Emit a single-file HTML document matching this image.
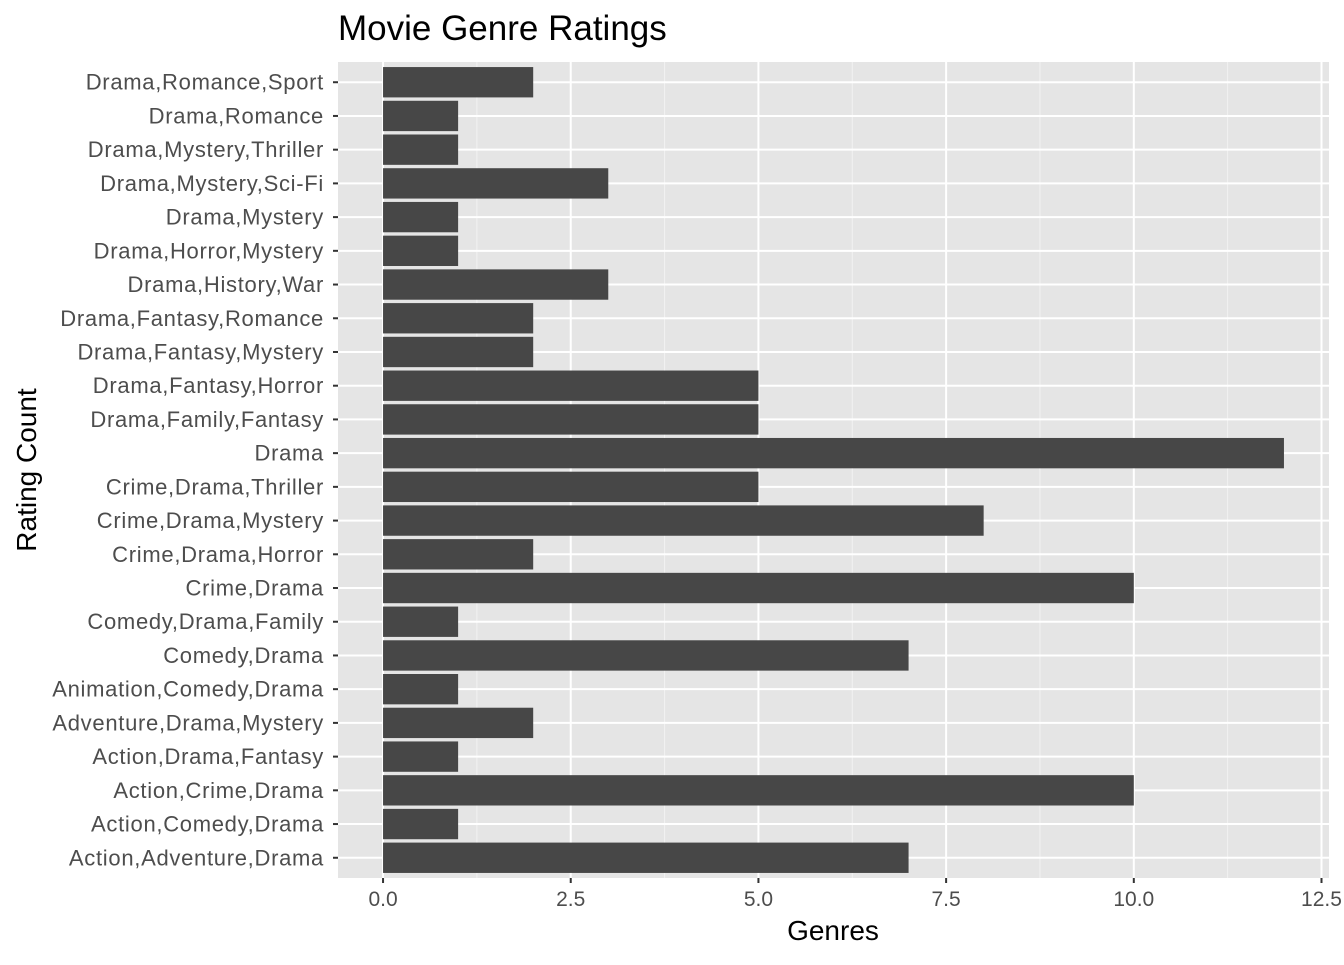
<!DOCTYPE html>
<html><head><meta charset="utf-8"><style>
body{margin:0;background:#fff;width:1344px;height:960px;overflow:hidden}
text{font-family:"Liberation Sans",Arial,sans-serif}
</style></head><body>
<svg id="chart" width="1344" height="960" xmlns="http://www.w3.org/2000/svg">
<text x="338" y="40" font-size="35" fill="#000">Movie Genre Ratings</text>
<rect x="338" y="62" width="991" height="816" fill="#e5e5e5"/>
<g id="grid"></g><g id="bars"></g><g id="yaxis"></g><g id="xaxis"></g>
<text x="833" y="940" font-size="28" text-anchor="middle" fill="#000">Genres</text>
<text transform="translate(36,470) rotate(-90)" font-size="28" text-anchor="middle" fill="#000">Rating Count</text>
</svg>
<script>
const categories=["Action,Adventure,Drama","Action,Comedy,Drama","Action,Crime,Drama","Action,Drama,Fantasy","Adventure,Drama,Mystery","Animation,Comedy,Drama","Comedy,Drama","Comedy,Drama,Family","Crime,Drama","Crime,Drama,Horror","Crime,Drama,Mystery","Crime,Drama,Thriller","Drama","Drama,Family,Fantasy","Drama,Fantasy,Horror","Drama,Fantasy,Mystery","Drama,Fantasy,Romance","Drama,History,War","Drama,Horror,Mystery","Drama,Mystery","Drama,Mystery,Sci-Fi","Drama,Mystery,Thriller","Drama,Romance","Drama,Romance,Sport"];
const values=[7,1,10,1,2,1,7,1,10,2,8,5,12,5,5,2,2,3,1,1,3,1,1,2];
const ticks=[0,2.5,5,7.5,10,12.5];
const tickLabels=["0.0","2.5","5.0","7.5","10.0","12.5"];
const NS="http://www.w3.org/2000/svg";
const L=338,R=1329,T=62,B=878;
const maxV=Math.max(...values);
const xmin=-0.05*maxV,xmax=maxV*1.05;
const x=v=>L+(v-xmin)/(xmax-xmin)*(R-L);
const n=categories.length;
const step=(B-T)/(n-1+1.2);
const y=i=>B-(0.6+i)*step;
function mk(tag,attrs,parent){const e=document.createElementNS(NS,tag);for(const k in attrs)e.setAttribute(k,attrs[k]);document.getElementById(parent).appendChild(e);return e;}
for(let k=0;k<ticks.length-1;k++){const m=(ticks[k]+ticks[k+1])/2;const g=mk('line',{x1:x(m),x2:x(m),y1:T,y2:B,stroke:'#f2f2f2','stroke-width':1},'grid');

}
ticks.forEach((t,k)=>{const g=mk('line',{x1:x(t),x2:x(t),y1:T,y2:B,stroke:'#fff','stroke-width':2},'grid');


const tk=mk('line',{x1:x(t),x2:x(t),y1:B,y2:B+5,stroke:'#333','stroke-width':2},'xaxis');


const tx=mk('text',{x:x(t),y:B+28,'font-size':21,'text-anchor':'middle',fill:'#4d4d4d'},'xaxis');tx.textContent=tickLabels[k];

});
categories.forEach((c,i)=>{const g=mk('line',{x1:L,x2:R,y1:y(i),y2:y(i),stroke:'#fff','stroke-width':2},'grid');


const h=step*0.9;const b=mk('rect',{x:x(0),y:y(i)-h/2,width:x(values[i])-x(0),height:h,fill:'#474747'},'bars');


const tk=mk('line',{x1:L-5,x2:L,y1:y(i),y2:y(i),stroke:'#333','stroke-width':2},'yaxis');


const tx=mk('text',{x:L-14,y:y(i)+7.5,'font-size':22,'letter-spacing':0.7,'text-anchor':'end',fill:'#4d4d4d'},'yaxis');tx.textContent=c;

});
</script>
</body></html>
